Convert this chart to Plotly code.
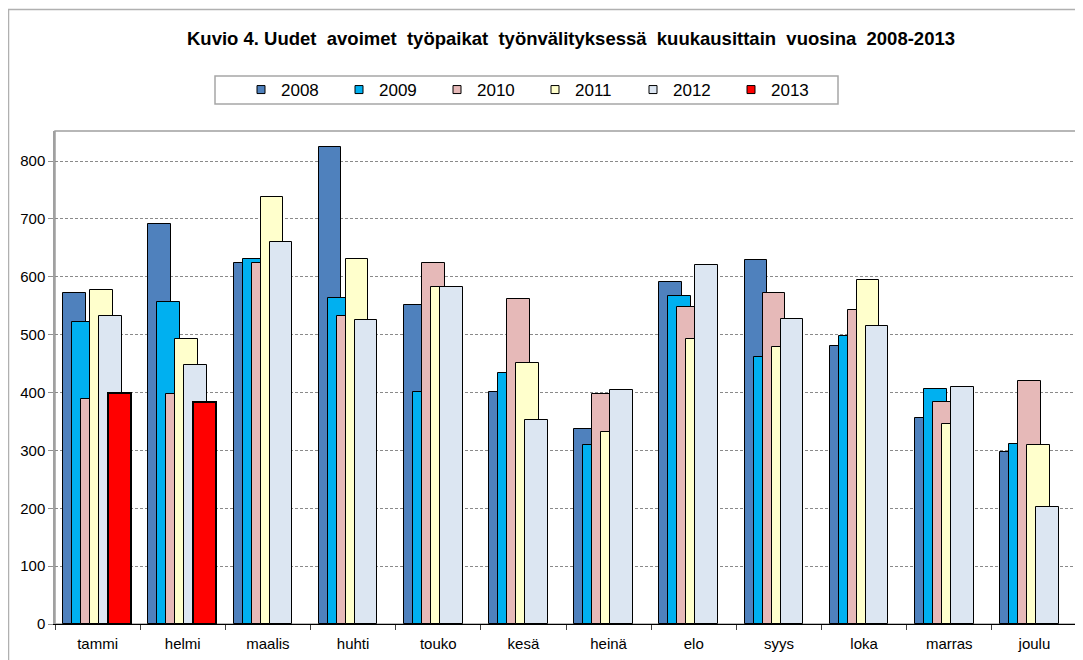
import plotly.graph_objects as go

months = ["tammi", "helmi", "maalis", "huhti", "touko", "kesä",
          "heinä", "elo", "syys", "loka", "marras", "joulu"]
years = ["2008", "2009", "2010", "2011", "2012", "2013"]

v2008 = [572, 692, 624, 824, 551, 401, 337, 591, 629, 481, 356, 298]
v2009 = [522, 556, 630, 564, 401, 434, 310, 566, 461, 497, 406, 311]
v2010 = [388, 398, 624, 533, 624, 562, 397, 548, 572, 543, 383, 420]
v2011 = [578, 493, 738, 630, 583, 451, 331, 493, 479, 594, 346, 310]
v2012 = [533, 447, 661, 525, 583, 353, 404, 621, 527, 515, 410, 203]
v2013 = [400, 384, None, None, None, None, None, None, None, None, None, None]

series = [v2008, v2009, v2010, v2011, v2012, v2013]
colors = ["#4F81BD", "#00B0F0", "#E6B9B8", "#FFFFCC", "#DCE6F2", "#FF0000"]
line_w = [1, 1, 1, 1, 1, 2]

# page has an 8px body margin; work in reference-page pixels and convert
OFF = 8
W, H = 1083 - OFF, 660 - OFF
L, R, T, B = 55, 1077, 131, 624          # plot area in page pixels
PW, PH = R - L, B - T

def px(x):
    return (x - L) / PW

def py(y):
    return (B - y) / PH

fig = go.Figure()
xs = list(range(len(months)))
bar_w = 0.265
step = 0.1057
start = -0.403
for i, (yr, vals) in enumerate(zip(years, series)):
    fig.add_trace(go.Bar(
        x=xs, y=vals, name=yr,
        width=bar_w, offset=start + i * step,
        marker=dict(color=colors[i], line=dict(color="#000000", width=line_w[i])),
        showlegend=False,
    ))
    # legend proxy
    fig.add_trace(go.Scatter(
        x=[None], y=[None], mode="markers", name=yr,
        marker=dict(symbol="square", size=8, color=colors[i],
                    line=dict(color="#000000", width=1)),
    ))

shapes = []
# outer chart frame
shapes.append(dict(type="rect", xref="paper", yref="paper",
                   x0=px(OFF + 0.5), x1=px(1095), y0=py(OFF + 1.5), y1=py(700),
                   line=dict(color="#b0b0b0", width=1.5)))
# plot area border
shapes.append(dict(type="rect", xref="paper", yref="paper",
                   x0=0, x1=1, y0=0, y1=1, layer="below",
                   line=dict(color="#a0a0a0", width=1.5)))
# legend box
shapes.append(dict(type="rect", xref="paper", yref="paper",
                   x0=px(215), x1=px(838), y0=py(76), y1=py(104),
                   line=dict(color="#a6a6a6", width=1.5)))

fig.update_layout(
    width=W, height=H,
    margin=dict(l=L - OFF, r=1083 - R, t=T - OFF, b=660 - B, pad=0),
    paper_bgcolor="white", plot_bgcolor="white",
    barmode="overlay",
    font=dict(family="Liberation Sans, Arial, sans-serif", size=14, color="#000"),
    title=dict(
        text="<b>Kuvio 4. Uudet\u00a0 avoimet\u00a0 työpaikat\u00a0 työnvälityksessä\u00a0 kuukausittain\u00a0 vuosina\u00a0 2008-2013</b>",
        x=px(571), xanchor="center", xref="paper",
        y=1 - (39 - OFF) / H, yanchor="middle", yref="container",
        font=dict(size=18.5, family="Liberation Sans, Arial, sans-serif", color="#000"),
    ),
    legend=dict(
        orientation="h", x=px(241), y=py(90), xanchor="left", yanchor="middle",
        xref="paper", yref="paper",
        bgcolor="rgba(0,0,0,0)", borderwidth=0,
        entrywidth=53, entrywidthmode="pixels",
        itemwidth=30, itemsizing="trace",
        font=dict(size=17, family="Liberation Sans, Arial, sans-serif", color="#000"),
        traceorder="normal",
    ),
    shapes=shapes,
    bargap=0,
)

fig.update_xaxes(
    range=[-0.5, len(months) - 0.5],
    tickmode="array", tickvals=xs, ticktext=months,
    ticks="", showgrid=False, zeroline=False,
    showline=True, linecolor="#000000", linewidth=1,
    tickfont=dict(size=15, color="#000"),
    ticklabelstandoff=6,
    minor=dict(tickmode="array", tickvals=[x - 0.5 for x in range(len(months) + 1)],
               ticks="outside", ticklen=5, tickcolor="#404040", tickwidth=1, showgrid=False),
)
fig.update_yaxes(
    range=[0, 852], tickmode="array", tickvals=[0, 100, 200, 300, 400, 500, 600, 700, 800],
    ticks="outside", ticklen=5, tickcolor="#909090", tickwidth=1,
    showgrid=True, gridcolor="#8a8a8a", gridwidth=1, griddash="3px,2px",
    zeroline=False, showline=True, linecolor="#a0a0a0", linewidth=1.5,
    tickfont=dict(size=15, color="#000"),
)

fig.write_html("out.html")
